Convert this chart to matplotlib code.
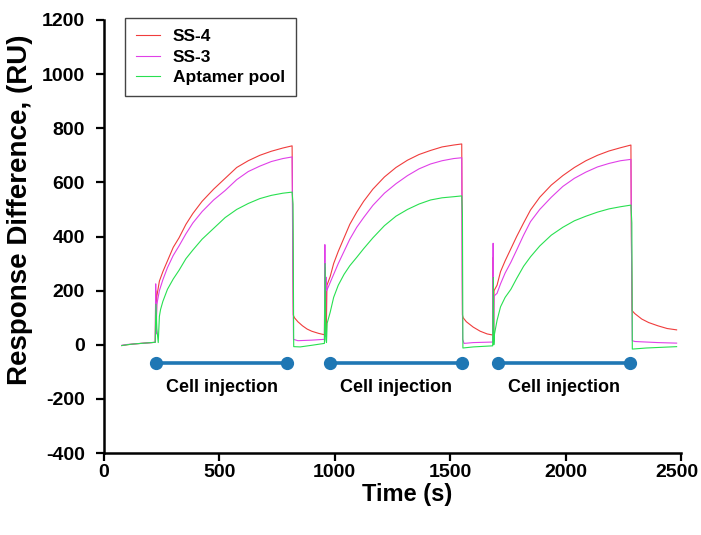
import matplotlib
matplotlib.use("Agg")
import matplotlib.pyplot as plt
import matplotlib.transforms as mtransforms

plt.rcParams['font.family'] = ['Liberation Sans', 'DejaVu Sans']
plt.rcParams['font.weight'] = 'bold'
plt.rcParams['axes.unicode_minus'] = False

# ---------------- data ----------------
t_ss4 = [77, 100, 130, 160, 190, 222, 224, 226, 229,
         240, 255, 275, 300, 325, 355, 385, 425, 475, 525, 575, 625, 675, 725, 775, 815,
         818, 820, 825, 840, 860, 880, 900, 930, 955,
         957, 959, 961, 963, 966,
         980, 995, 1015, 1040, 1065, 1095, 1125, 1165, 1215, 1265, 1315, 1365, 1415, 1465, 1515, 1550,
         1552, 1553, 1556, 1570, 1600, 1630, 1660, 1684,
         1686, 1688, 1690,
         1703, 1718, 1738, 1763, 1788, 1818, 1848, 1888, 1938, 1988, 2038, 2088, 2138, 2188, 2238, 2283,
         2285, 2288, 2300, 2330, 2360, 2400, 2440, 2481]
v_ss4 = [-3, 0, 3, 5, 7, 9, 200, 60, 180,
         235, 270, 310, 360, 395, 445, 485, 530, 575, 615, 655, 680, 700, 715, 727, 735,
         400, 110, 100, 85, 70, 58, 50, 42, 37,
         286, 60, 200, 40, 220,
         252, 300, 345, 395, 445, 490, 530, 575, 620, 655, 682, 703, 718, 731, 738, 742,
         400, 110, 100, 85, 65, 50, 40, 36,
         323, 40, 200,
         220, 270, 310, 355, 400, 450, 498, 545, 590, 625, 655, 680, 700, 716, 728, 738,
         400, 126, 115, 95, 82, 70, 60, 55]

t_ss3 = [77, 100, 130, 160, 190, 222, 224, 226, 229,
         240, 255, 275, 300, 325, 355, 385, 425, 475, 525, 575, 625, 675, 725, 775, 815,
         818, 821, 840, 900, 955,
         957, 959, 962, 965,
         980, 995, 1015, 1040, 1065, 1095, 1125, 1165, 1215, 1265, 1315, 1365, 1415, 1465, 1515, 1550,
         1552, 1554, 1560, 1600, 1684,
         1686, 1688, 1690,
         1703, 1718, 1738, 1763, 1788, 1818, 1848, 1888, 1938, 1988, 2038, 2088, 2138, 2188, 2238, 2283,
         2286, 2289, 2300, 2400, 2481]
v_ss3 = [-2, 1, 3, 5, 7, 9, 225, 40, 150,
         200, 240, 285, 330, 365, 410, 450, 492, 535, 570, 610, 640, 660, 677, 688, 694,
         300, 20, 15, 17, 20,
         370, 30, 250, 200,
         230, 260, 300, 345, 390, 434, 470, 515, 560, 595, 625, 650, 668, 680, 688, 691,
         250, 20, 5, 8, 10,
         375, 20, 180,
         190, 225, 265, 305, 350, 405, 455, 500, 545, 585, 615, 638, 657, 670, 680, 685,
         300, 15, 12, 8, 6]

t_pool = [77, 100, 130, 160, 190, 222, 225, 229, 235,
          240, 245, 255, 275, 300, 325, 355, 385, 425, 475, 525, 575, 625, 675, 725, 775, 815,
          819, 822, 850, 900, 955,
          958, 961, 964, 967,
          980, 995, 1015, 1040, 1065, 1095, 1125, 1165, 1215, 1265, 1315, 1365, 1415, 1465, 1515, 1550,
          1553, 1555, 1600, 1684,
          1687, 1689, 1692,
          1703, 1718, 1738, 1763, 1788, 1818, 1848, 1888, 1938, 1988, 2038, 2088, 2138, 2188, 2238, 2283,
          2287, 2289, 2350, 2481]
v_pool = [-3, 0, 3, 5, 7, 9, 150, 60, 8,
          105, 130, 160, 205, 243, 275, 318, 350, 390, 430, 470, 500, 522, 540, 552, 560, 564,
          520, -7, -8, -2, 5,
          300, 20, 8, 80,
          120, 175, 220, 260, 292, 323, 355, 395, 440, 475, 500, 520, 535, 543, 547, 550,
          480, -12, -8, -4,
          249, 0, 40,
          90, 140, 175, 205, 245, 290, 325, 365, 405, 434, 458, 475, 490, 502, 510, 516,
          450, -16, -12, -7]

series_names = ['SS-4', 'SS-3', 'Aptamer pool']
series_colors = ['#f03c3c', '#e040e8', '#28e050']

inj_start = [225, 979, 1707]
inj_end = [794, 1553, 2279]
inj_level = -68
inj_text_level = -158
inj_label = 'Cell injection'

x_ticks = [0, 500, 1000, 1500, 2000, 2500]
y_ticks = [-400, -200, 0, 200, 400, 600, 800, 1000, 1200]

# ---------------- figure ----------------
fig = plt.figure(figsize=(7.01, 5.35), dpi=100)
ax = fig.add_axes([104 / 701, 1 - 453 / 535, 577 / 701, 433 / 535])

for t, v, name, c in zip([t_ss4, t_ss3, t_pool], [v_ss4, v_ss3, v_pool],
                         series_names, series_colors):
    ax.plot(t, v, color=c, lw=0.8, label=name)

for s, e in zip(inj_start, inj_end):
    ax.plot([s, e], [inj_level, inj_level], color='#1f77b4', lw=2.6,
            marker='o', markersize=8.5, solid_capstyle='butt')
    ax.text((s + e) / 2, inj_text_level, inj_label, ha='center', va='center',
            fontsize=13, fontweight='bold')

ax.set_xlim(0, 2500)
ax.set_ylim(-400, 1200)
ax.set_xticks(x_ticks)
ax.set_yticks(y_ticks)
ax.set_xticklabels([str(v) for v in x_ticks])
ax.set_yticklabels([str(v) for v in y_ticks])

for side in ['top', 'right']:
    ax.spines[side].set_visible(False)
for side in ['left', 'bottom']:
    ax.spines[side].set_linewidth(1.8)

ax.tick_params(axis='both', direction='out', length=5.8, width=1.6,
               labelsize=14)
ax.tick_params(axis='y', pad=8)
ax.tick_params(axis='x', pad=2)
for lbl in ax.get_xticklabels() + ax.get_yticklabels():
    lbl.set_fontweight('bold')

# keep the last x tick label inside the canvas
last = ax.get_xticklabels()[-1]
last.set_transform(last.get_transform() +
                   mtransforms.ScaledTranslation(-4 / 100, 0, fig.dpi_scale_trans))

ax.set_xlabel('Time (s)', fontsize=17, fontweight='bold')
ax.set_ylabel('Response Difference, (RU)', fontsize=20, fontweight='bold')
ax.xaxis.label.set_va('center')
ax.yaxis.label.set_va('center')
ax.xaxis.set_label_coords(0.525, -0.096)
ax.yaxis.set_label_coords(-0.146, 0.561)

leg = ax.legend(loc='upper left', bbox_to_anchor=(0.036, 1.005),
                borderaxespad=0,
                prop={'weight': 'bold', 'size': 12.5},
                fancybox=False, framealpha=1, edgecolor='#444444',
                handlelength=1.4, handletextpad=0.7, labelspacing=0.3,
                borderpad=0.65)
leg.get_frame().set_linewidth(1.0)

fig.savefig('out.png', dpi=100)
